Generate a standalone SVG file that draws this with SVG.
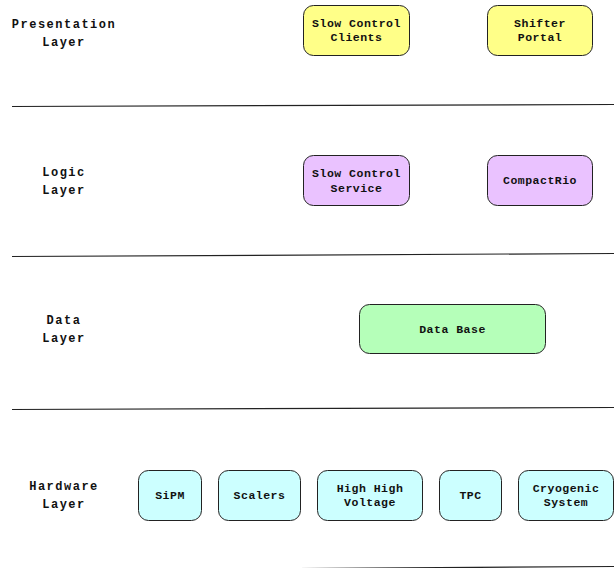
<svg xmlns="http://www.w3.org/2000/svg" width="614" height="568" viewBox="0 0 614 568">
<style>
.lbl{font-family:"Liberation Mono","Courier New",monospace;font-weight:bold;font-size:12px;letter-spacing:1.5px;text-anchor:middle;fill:#111}
.nt{font-family:"Liberation Mono","Courier New",monospace;font-weight:bold;font-size:11.5px;letter-spacing:0.5px;text-anchor:middle;fill:#111}
.box{stroke:#222;stroke-width:1}
.y{fill:#ffff88}
.p{fill:#eac2ff}
.g{fill:#b5ffb9}
.c{fill:#ccffff}
.sep{stroke:#222;stroke-width:1.2}
</style>
<g id="separators">
<line class="sep" x1="12" y1="106.5" x2="614" y2="104.5"/>
<line class="sep" x1="12" y1="256.5" x2="614" y2="253.5"/>
<line class="sep" x1="12" y1="409.5" x2="614" y2="407.5"/>
<line class="sep" x1="12" y1="570.5" x2="614" y2="566.5"/>
</g>
<g id="layer-labels">
<text class="lbl" x="64" y="28">Presentation</text>
<text class="lbl" x="64" y="46">Layer</text>
<text class="lbl" x="64" y="176">Logic</text>
<text class="lbl" x="64" y="194">Layer</text>
<text class="lbl" x="64" y="324">Data</text>
<text class="lbl" x="64" y="342">Layer</text>
<text class="lbl" x="64" y="490">Hardware</text>
<text class="lbl" x="64" y="508">Layer</text>
</g>
<g id="n-sc-clients"><rect class="box y" x="303.5" y="5.5" width="106" height="50" rx="10"/><text class="nt" x="356.5" y="27">Slow Control</text><text class="nt" x="356.5" y="41">Clients</text></g>
<g id="n-shifter"><rect class="box y" x="487.5" y="5.5" width="105" height="50" rx="10"/><text class="nt" x="540" y="27">Shifter</text><text class="nt" x="540" y="41">Portal</text></g>
<g id="n-sc-service"><rect class="box p" x="303.5" y="155.5" width="106" height="50" rx="10"/><text class="nt" x="356.5" y="177">Slow Control</text><text class="nt" x="356.5" y="192">Service</text></g>
<g id="n-compactrio"><rect class="box p" x="487.5" y="155.5" width="105" height="50" rx="10"/><text class="nt" x="540" y="184">CompactRio</text></g>
<g id="n-database"><rect class="box g" x="359.5" y="304.5" width="186" height="49" rx="10"/><text class="nt" x="452.5" y="333">Data Base</text></g>
<g id="n-sipm"><rect class="box c" x="138.5" y="470.5" width="63" height="50" rx="10"/><text class="nt" x="170" y="499">SiPM</text></g>
<g id="n-scalers"><rect class="box c" x="218.5" y="470.5" width="82" height="50" rx="10"/><text class="nt" x="259.5" y="499">Scalers</text></g>
<g id="n-hhv"><rect class="box c" x="317.5" y="470.5" width="105" height="50" rx="10"/><text class="nt" x="370" y="492">High High</text><text class="nt" x="370" y="506">Voltage</text></g>
<g id="n-tpc"><rect class="box c" x="439.5" y="470.5" width="62" height="50" rx="10"/><text class="nt" x="470.5" y="499">TPC</text></g>
<g id="n-cryo"><rect class="box c" x="518.5" y="470.5" width="95" height="50" rx="10"/><text class="nt" x="566" y="492">Cryogenic</text><text class="nt" x="566" y="506">System</text></g>
<g id="connectors"></g>
</svg>
